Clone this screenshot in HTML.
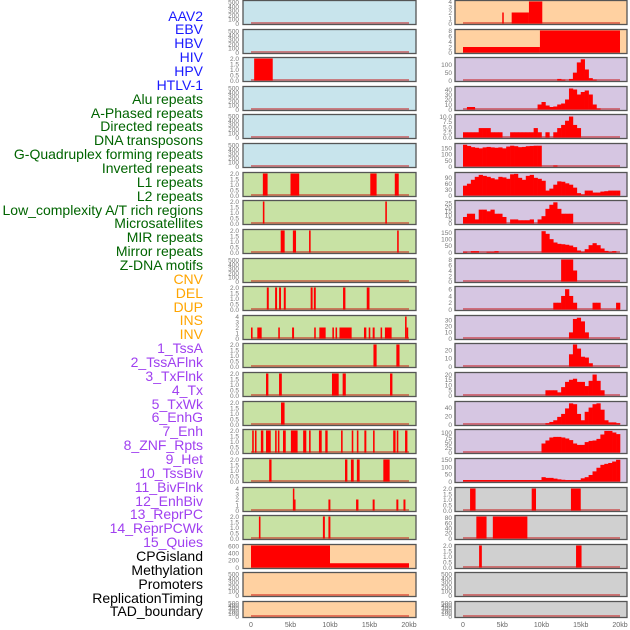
<!DOCTYPE html>
<html><head><meta charset="utf-8">
<style>
html,body{margin:0;padding:0;background:#fff;}
#wrap{position:relative;width:630px;height:630px;overflow:hidden;}
.lbl{position:absolute;right:427px;font:14px "Liberation Sans",sans-serif;white-space:nowrap;line-height:14px;}
svg{position:absolute;left:0;top:0;}
</style></head>
<body>
<div id="wrap">
<div id="labels"></div>
<svg id="svg" width="630" height="630"></svg>
</div>
<script>
const labelNames = ["AAV2","EBV","HBV","HIV","HPV","HTLV-1","Alu repeats","A-Phased repeats","Directed repeats","DNA transposons","G-Quadruplex forming repeats","Inverted repeats","L1 repeats","L2 repeats","Low_complexity A/T rich regions","Microsatellites","MIR repeats","Mirror repeats","Z-DNA motifs","CNV","DEL","DUP","INS","INV","1_TssA","2_TssAFlnk","3_TxFlnk","4_Tx","5_TxWk","6_EnhG","7_Enh","8_ZNF_Rpts","9_Het","10_TssBiv","11_BivFlnk","12_EnhBiv","13_ReprPC","14_ReprPCWk","15_Quies","CPGisland","Methylation","Promoters","ReplicationTiming","TAD_boundary"];
const labelGroups = [6,13,5,15,5];
const groupColors = ["#1a1aff","#006400","#ffa500","#a040f0","#000000"];

const xTicks = [0,5,10,15,20];
const xTickLabels = ["0","5kb","10kb","15kb","20kb"];

const segL2 = [[0.4,2.75,2]];
const segL6 = [[1.5,2.1,2],[5.0,6.1,2],[15.1,15.9,2],[18.2,18.7,2]];
const segL7 = [[1.5,1.7,2],[17.0,17.2,2]];
const segL8 = [[3.76,4.26,2],[5.3,5.7,2],[7.35,7.55,2],[18.5,18.7,2]];
const segL10 = [[2.0,2.25,2],[3.05,3.3,2],[3.55,3.8,2],[4.15,4.4,2],[7.55,7.8,2],[7.95,8.2,2],[11.65,11.95,2],[14.65,15.0,2]];
const segL11 = [[0.0,0.2,2],[0.8,1.35,2],[3.45,3.65,2],[5.2,5.45,2],[8.0,8.2,2],[8.65,9.45,2],[10.3,10.5,2],[10.7,10.9,2],[11.2,12.74,2],[14.3,14.6,2],[14.9,15.1,2],[15.4,15.65,2],[16.4,16.6,2],[16.95,17.8,2],[19.5,19.7,4],[19.7,19.9,2]];
const segL12 = [[15.5,15.9,2],[18.4,18.8,2]];
const segL13 = [[1.9,2.2,2],[3.55,3.9,2],[10.25,11.1,2],[11.6,12.0,2],[17.6,17.9,2]];
const segL14 = [[3.8,4.25,2]];
const segL15 = [[0.15,0.35,2],[0.5,0.7,2],[1.25,1.56,2],[1.9,2.5,2],[3.05,3.25,2],[3.4,3.6,2],[4.05,4.4,2],[5.05,5.9,2],[6.6,7.0,2],[7.35,7.55,2],[8.6,8.95,2],[9.4,9.7,2],[11.4,11.6,2],[12.75,12.95,2],[13.4,13.6,2],[14.35,14.6,2],[15.45,15.65,2],[18.0,18.3,2],[18.45,18.65,2],[19.5,19.8,2]];
const segL16 = [[2.3,2.6,2],[11.9,12.2,2],[12.65,13.0,2],[13.4,13.75,2],[16.75,17.55,2]];
const segL17 = [[5.3,5.45,4],[5.45,5.6,2],[9.8,10.05,2],[13.3,13.6,2],[15.4,15.65,2],[18.4,18.65,2],[19.3,19.55,2]];
const segL18 = [[1.0,1.2,2],[9.1,9.35,2],[9.8,10.05,2]];
const segL19 = [[0,10,620],[10,20,120]];

const segR0 = [[5.0,5.15,2],[6.2,8.4,2],[8.4,10.1,4]];
const segR1 = [[0,9.8,2],[9.8,20,8]];
const binsR2 = [0,0,0,0,0,0,0,0,0,0,0,0,0,0,0,0,0,0,0,0,0,0,0,0,10,5,0,10,50,115,135,70,15,5,0,0,0,0,0,0];
const binsR3 = [0,5,5,0,0,0,0,0,0,0,0,0,0,0,0,0,0,0,0,10,15,8,5,6,10,12,20,42,40,30,35,38,30,10,2,0,0,0,0,0];
const binsR4 = [2.5,2.5,2.5,2.5,4.5,4.5,4.5,2.5,2.5,2.5,0,0,2.5,2.5,2.5,2.5,2.5,2.5,4.5,2.5,0,2.5,0,2.5,4.5,6,8,10,6,4.5,0,0,0,0,0,0,0,0,0,0];
const binsR5 = [180,170,160,155,150,158,162,158,155,158,150,165,172,168,160,162,168,170,172,172,0,0,0,8,0,0,0,0,0,0,0,0,0,0,0,0,0,0,0,0];
const binsR6 = [50,60,80,95,105,100,95,88,82,95,92,85,108,110,90,80,100,105,90,85,75,25,35,55,72,70,62,55,40,12,5,25,25,15,15,20,22,25,25,25];
const binsR7 = [8,12,12,5,17,17,15,17,12,12,8,0,5,5,4,4,4,5,0,5,9,18,23,26,18,12,12,12,0,0,0,0,0,0,0,0,0,0,0,0];
const binsR8 = [5,0,10,10,0,0,5,5,10,0,0,0,0,0,0,0,0,0,0,0,160,140,100,75,65,62,58,52,40,15,5,25,55,70,55,30,12,5,10,0];
const binsR9 = [0,0,0,0,0,0,0,0,0,0,0,0,0,0,0,0,0,0,0,0,0,0,0,0,0,8,8,8,4,0,0,0,0,0,0,0,0,0,0,0];
const binsR10 = [0,0,0,0,0,0,0,0,0,0,0,0,0,0,0,0,0,0,0,0,0,0,0,2,2,4,6,4,2,0,0,0,0,2,2,0,0,0,0,2];
const binsR11 = [0,0,0,0,0,0,0,0,0,0,0,0,0,0,0,0,0,0,0,0,0,0,0,0,0,0,0,10,32,34,28,10,0,0,0,0,0,0,0,0];
const binsR12 = [0,0,0,0,0,0,0,0,0,0,0,0,0,0,0,0,0,0,0,0,0,0,0,0,0,0,0,15,27,22,12,11,4,0,0,0,0,0,0,0];
const binsR13 = [0,0,0,0,0,0,0,0,0,0,0,0,0,0,0,0,0,0,0,0,0,5,5,5,3,8,13,15,16,13,13,9,14,20,14,5,0,0,0,0];
const binsR14 = [0,0,0,0,0,0,0,0,0,0,0,0,0,0,0,0,0,0,0,0,0,3,6,10,18,25,38,50,48,25,10,30,40,48,50,35,10,5,5,3];
const binsR15 = [0,0,0,0,0,0,0,0,0,0,0,0,0,0,0,0,0,0,0,0,45,60,75,78,78,75,70,62,45,38,38,52,58,60,68,90,108,108,100,92];
const binsR16 = [10,10,10,10,10,10,10,10,10,10,10,10,10,10,10,10,10,10,10,10,30,25,25,20,15,12,10,10,10,10,22,30,45,70,95,115,122,128,138,150];
const segR17 = [[0.9,1.6,2],[8.75,9.3,2],[13.75,15.0,2]];
const segR18 = [[1.7,3.0,85],[3.8,8.2,85]];
const segR19 = [[2.05,2.4,2],[14.4,15.1,2]];

const tEmpty = ["0","100","200","300","400","500"], vEmpty=[0,100,200,300,400,500];
const t2 = ["0.0","0.5","1.0","1.5","2.0"], v2=[0,0.5,1,1.5,2];
const t4 = ["0","1","2","3","4"], v4=[0,1,2,3,4];

const BG = {blue:"#c8e4ec",green:"#c8e2a4",orange:"#ffd1a1",purple:"#d6c6e2",grey:"#d0d0d0"};

const leftPanels = [
 {bg:"blue",ymax:520,tv:vEmpty,tl:tEmpty},
 {bg:"blue",ymax:520,tv:vEmpty,tl:tEmpty},
 {bg:"blue",ymax:2,tv:v2,tl:t2,seg:segL2},
 {bg:"blue",ymax:520,tv:vEmpty,tl:tEmpty},
 {bg:"blue",ymax:520,tv:vEmpty,tl:tEmpty},
 {bg:"blue",ymax:520,tv:vEmpty,tl:tEmpty},
 {bg:"green",ymax:2,tv:v2,tl:t2,seg:segL6},
 {bg:"green",ymax:2,tv:v2,tl:t2,seg:segL7},
 {bg:"green",ymax:2,tv:v2,tl:t2,seg:segL8},
 {bg:"green",ymax:520,tv:vEmpty,tl:tEmpty},
 {bg:"green",ymax:2,tv:v2,tl:t2,seg:segL10},
 {bg:"green",ymax:4,tv:v4,tl:t4,seg:segL11},
 {bg:"green",ymax:2,tv:v2,tl:t2,seg:segL12},
 {bg:"green",ymax:2,tv:v2,tl:t2,seg:segL13},
 {bg:"green",ymax:2,tv:v2,tl:t2,seg:segL14},
 {bg:"green",ymax:2,tv:v2,tl:t2,seg:segL15},
 {bg:"green",ymax:2,tv:v2,tl:t2,seg:segL16},
 {bg:"green",ymax:4,tv:v4,tl:t4,seg:segL17},
 {bg:"green",ymax:2,tv:v2,tl:t2,seg:segL18},
 {bg:"orange",ymax:620,tv:[0,200,400,600],tl:["0","200","400","600"],seg:segL19},
 {bg:"orange",ymax:520,tv:vEmpty,tl:tEmpty},
 {bg:"orange",ymax:520,tv:vEmpty,tl:tEmpty}
];
const rightPanels = [
 {bg:"orange",ymax:4,tv:v4,tl:t4,seg:segR0},
 {bg:"orange",ymax:8,tv:[0,2,4,6,8],tl:["0","2","4","6","8"],seg:segR1},
 {bg:"purple",ymax:140,tv:[0,50,100],tl:["0","50","100"],bins:binsR2},
 {bg:"purple",ymax:44,tv:[0,10,20,30,40],tl:["0","10","20","30","40"],bins:binsR3},
 {bg:"purple",ymax:10.5,tv:[0,2.5,5,7.5,10],tl:["0.0","2.5","5.0","7.5","10.0"],bins:binsR4},
 {bg:"purple",ymax:182,tv:[0,50,100,150],tl:["0","50","100","150"],bins:binsR5},
 {bg:"purple",ymax:112,tv:[0,30,60,90],tl:["0","30","60","90"],bins:binsR6},
 {bg:"purple",ymax:27,tv:[0,5,10,15,20,25],tl:["0","5","10","15","20","25"],bins:binsR7},
 {bg:"purple",ymax:165,tv:[0,50,100,150],tl:["0","50","100","150"],bins:binsR8},
 {bg:"purple",ymax:8,tv:[0,2,4,6,8],tl:["0","2","4","6","8"],bins:binsR9},
 {bg:"purple",ymax:6.5,tv:[0,2,4,6],tl:["0","2","4","6"],bins:binsR10},
 {bg:"purple",ymax:36,tv:[0,10,20,30],tl:["0","10","20","30"],bins:binsR11},
 {bg:"purple",ymax:27,tv:[0,10,20],tl:["0","10","20"],bins:binsR12},
 {bg:"purple",ymax:21,tv:[0,5,10,15,20],tl:["0","5","10","15","20"],bins:binsR13},
 {bg:"purple",ymax:52,tv:[0,20,40],tl:["0","20","40"],bins:binsR14},
 {bg:"purple",ymax:110,tv:[0,25,50,75,100],tl:["0","25","50","75","100"],bins:binsR15},
 {bg:"purple",ymax:152,tv:[0,50,100,150],tl:["0","50","100","150"],bins:binsR16},
 {bg:"grey",ymax:2,tv:v2,tl:t2,seg:segR17},
 {bg:"grey",ymax:85,tv:[0,20,40,60,80],tl:["0","20","40","60","80"],seg:segR18},
 {bg:"grey",ymax:2,tv:v2,tl:t2,seg:segR19},
 {bg:"grey",ymax:520,tv:vEmpty,tl:tEmpty},
 {bg:"grey",ymax:520,tv:vEmpty,tl:tEmpty}
];

const labDiv = document.getElementById('labels');
let li = 0;
labelGroups.forEach((n,g)=>{
  for(let k=0;k<n;k++){
    const d=document.createElement('div');
    d.className='lbl';
    d.style.top=(15+13.86*li-6.5)+'px';
    d.style.color=groupColors[g];
    d.textContent=labelNames[li];
    
    
    labDiv.appendChild(d);
    li++;
  }
});

const NS="http://www.w3.org/2000/svg";
const svg=document.getElementById('svg');
function mk(tag,attrs,parent){const e=document.createElementNS(NS,tag);for(const k in attrs)e.setAttribute(k,attrs[k]);parent.appendChild(e);return e;}
const cols=[{px:243,pw:173,x0:251,x1:409,panels:leftPanels,tickX:239,name:'left'},
            {px:455,pw:172,x0:463,x1:620,panels:rightPanels,tickX:452,name:'right'}];

cols.forEach(col=>{
  const xs=kb=>col.x0+(kb/20)*(col.x1-col.x0);
  col.panels.forEach((p,i)=>{
    const top=Math.round(i*28.62)+0.5;
    const h=(i===21)?16:24;
    const bot=top+h-1;
    const ys=v=>bot-(v/p.ymax)*(h-2);
    const g=mk('g',{},svg);
    
    
    mk('rect',{x:col.px,y:top,width:col.pw,height:h,fill:BG[p.bg]},g);
    const bl=mk('line',{x1:xs(0),x2:xs(20),y1:bot-0.5,y2:bot-0.5,stroke:'rgba(200,0,0,0.45)','stroke-width':2},g);
    
    
    if(p.seg){
      p.seg.forEach(s=>{
        const r=mk('rect',{x:xs(s[0]),y:ys(s[2]),width:Math.max(1.5,xs(s[1])-xs(s[0])),height:bot-ys(s[2]),fill:'#ff0000'},g);
        
        
      });
    }
    if(p.bins){
      const bw=20/p.bins.length;
      p.bins.forEach((v,j)=>{
        if(v<=0)return;
        const r=mk('rect',{x:xs(j*bw),y:ys(v),width:xs((j+1)*bw)-xs(j*bw)+0.3,height:bot-ys(v),fill:'#ff0000'},g);
        
        
      });
    }
    mk('rect',{x:col.px,y:top,width:col.pw,height:h,fill:'none',stroke:'#555','stroke-width':1.3},g);
    p.tv.forEach((v,k)=>{
      const t=mk('text',{x:col.tickX,y:ys(v)+2.3,'text-anchor':'end','font-size':'6.5','font-family':'Liberation Sans, sans-serif',fill:'#777'},g);
      t.textContent=p.tl[k];
      
      
    });
  });
  xTicks.forEach((v,k)=>{
    const t=mk('text',{x:xs(v),y:627,'text-anchor':'middle','font-size':'7','font-family':'Liberation Sans, sans-serif',fill:'#666'},svg);
    t.textContent=xTickLabels[k];
    
    
  });
});
</script>
</body></html>
